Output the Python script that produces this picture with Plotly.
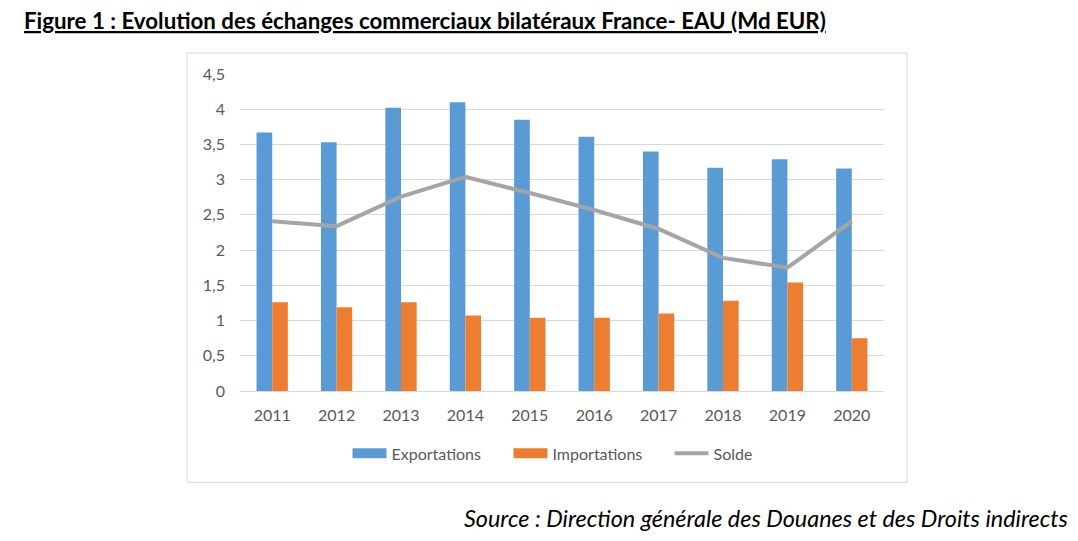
import plotly.graph_objects as go

years = ["2011", "2012", "2013", "2014", "2015", "2016", "2017", "2018", "2019", "2020"]
exportations = [3.67, 3.53, 4.02, 4.10, 3.85, 3.61, 3.40, 3.17, 3.29, 3.16]
importations = [1.26, 1.19, 1.26, 1.07, 1.04, 1.04, 1.10, 1.28, 1.54, 0.75]
solde = [2.41, 2.34, 2.76, 3.04, 2.81, 2.57, 2.30, 1.89, 1.75, 2.41]
ytick_vals = [0, 0.5, 1, 1.5, 2, 2.5, 3, 3.5, 4, 4.5]
ytick_text = ["0", "0,5", "1", "1,5", "2", "2,5", "3", "3,5", "4", "4,5"]

BLUE = "#5B9BD5"
ORANGE = "#ED7D31"
GREY = "#A5A5A5"
GRID = "#D9D9D9"
TXT = "#595959"
FONT = "Lato"

fig = go.Figure()
fig.add_trace(go.Bar(x=years, y=exportations, name="Exportations", marker_color=BLUE,
                     marker_line_width=0, showlegend=False))
fig.add_trace(go.Bar(x=years, y=importations, name="Importations", marker_color=ORANGE,
                     marker_line_width=0, showlegend=False))
fig.add_trace(go.Scatter(x=years, y=solde, name="Solde", mode="lines",
                         line=dict(color=GREY, width=4), showlegend=False))
# legend proxies (wide swatches like the original)
fig.add_trace(go.Scatter(x=[None], y=[None], name="Exportations", mode="lines",
                         line=dict(color=BLUE, width=10)))
fig.add_trace(go.Scatter(x=[None], y=[None], name="Importations", mode="lines",
                         line=dict(color=ORANGE, width=10)))
fig.add_trace(go.Scatter(x=[None], y=[None], name="Solde", mode="lines",
                         line=dict(color=GREY, width=4)))

L, R, T, B = 240, 884, 74, 391.5
W, H = 1078, 541
pw, ph = R - L, B - T

def px(x):
    return (x - L) / pw

def py(y):
    return (B - y) / ph

fig.update_layout(
    width=W, height=H,
    margin=dict(l=L, r=W - R, t=T, b=H - B, pad=0),
    paper_bgcolor="white", plot_bgcolor="white",
    barmode="group", bargap=0.514, bargroupgap=0,
    font=dict(family=FONT, color=TXT, size=16),
    legend=dict(orientation="h", x=px(589), xanchor="center", y=py(454), yanchor="middle",
                font=dict(family=FONT, size=16, color=TXT), itemwidth=34,
                entrywidth=112, entrywidthmode="pixels",
                bgcolor="rgba(0,0,0,0)", traceorder="normal"),
    xaxis=dict(type="category", showgrid=False, showline=True, linecolor=GRID, linewidth=1,
               ticks="", tickfont=dict(family=FONT, size=16, color=TXT), ticklabelstandoff=10),
    yaxis=dict(range=[0, 4.5], tickvals=ytick_vals, ticktext=ytick_text, showgrid=True,
               gridcolor=GRID, gridwidth=1.3, zeroline=False, showline=False, ticks="",
               tickfont=dict(family=FONT, size=16, color=TXT), ticklabelstandoff=14),
    shapes=[dict(type="rect", xref="paper", yref="paper",
                 x0=px(187), x1=px(907), y0=py(483), y1=py(53),
                 line=dict(color=GRID, width=1), fillcolor="rgba(0,0,0,0)", layer="below")],
    annotations=[
        dict(text="<u><b>Figure 1 : Evolution des échanges commerciaux bilatéraux France- EAU (Md EUR)</b></u>",
             xref="paper", yref="paper", x=px(22), y=py(20), xanchor="left", yanchor="middle",
             showarrow=False, font=dict(family=FONT, size=22.3, color="black")),
        dict(text="<i>Source : Direction générale des Douanes et des Droits indirects</i>",
             xref="paper", yref="paper", x=px(1070), y=py(519), xanchor="right", yanchor="middle",
             showarrow=False, font=dict(family=FONT, size=23.4, color="black")),
    ],
)

fig.write_html("out.html")
